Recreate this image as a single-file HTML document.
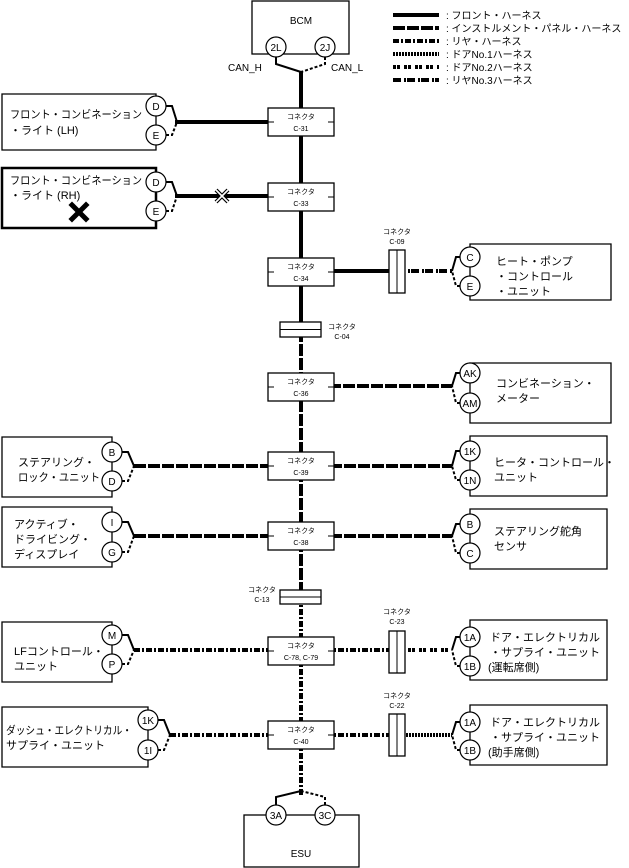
<!DOCTYPE html>
<html><head><meta charset="utf-8"><style>
html,body{margin:0;padding:0;background:#fff;}
svg{display:block;}
text{font-family:"Liberation Sans","Noto Sans CJK JP",sans-serif;fill:#000;}
.b{fill:#fff;stroke:#000;stroke-width:1.3;}
.c{fill:#fff;stroke:#000;stroke-width:1.2;}
.s{font-size:7px;}
.m{font-size:10px;}
.p{font-size:10px;}
.d{font-size:11px;}
</style></head><body>
<svg width="629" height="868" viewBox="0 0 629 868" xmlns="http://www.w3.org/2000/svg">
<g stroke="#000" stroke-width="4" fill="none">
<line x1="393" y1="15" x2="439" y2="15"/>
<line x1="393" y1="28" x2="439" y2="28" stroke-dasharray="12 2"/>
<line x1="393" y1="41" x2="439" y2="41" stroke-dasharray="6 2 2 2"/>
<line x1="393" y1="54" x2="439" y2="54" stroke-dasharray="2 1"/>
<line x1="393" y1="67" x2="439" y2="67" stroke-dasharray="3 1 3 4"/>
<line x1="393" y1="80" x2="439" y2="80" stroke-dasharray="8 3 2 1"/>
</g>
<g class="m">
<text x="446" y="19">: フロント・ハーネス</text>
<text x="446" y="32">: インストルメント・パネル・ハーネス</text>
<text x="446" y="45">: リヤ・ハーネス</text>
<text x="446" y="58">: ドアNo.1ハーネス</text>
<text x="446" y="71">: ドアNo.2ハーネス</text>
<text x="446" y="84">: リヤNo.3ハーネス</text>
</g>

<g stroke="#000" stroke-width="4" fill="none">
<line x1="301" y1="72" x2="301" y2="330"/>
<line x1="301" y1="330" x2="301" y2="597" stroke-dasharray="12 2"/>
<line x1="301" y1="597" x2="301" y2="797" stroke-dasharray="6 2 2 2"/>
<line x1="175" y1="122" x2="301" y2="122"/>
<line x1="175" y1="196" x2="301" y2="196"/>
<line x1="301" y1="271" x2="397" y2="271"/>
<line x1="397" y1="271" x2="452" y2="271" stroke-dasharray="8 3 2 1"/>
<line x1="301" y1="386" x2="452" y2="386" stroke-dasharray="12 2"/>
<line x1="134" y1="466" x2="452" y2="466" stroke-dasharray="12 2"/>
<line x1="134" y1="536" x2="452" y2="536" stroke-dasharray="12 2"/>
<line x1="134" y1="650" x2="397" y2="650" stroke-dasharray="6 2 2 2"/>
<line x1="397" y1="650" x2="452" y2="650" stroke-dasharray="3 1 3 4"/>
<line x1="170" y1="735" x2="397" y2="735" stroke-dasharray="6 2 2 2"/>
<line x1="397" y1="735" x2="452" y2="735" stroke-dasharray="2 1"/>
</g>
<g stroke="#000" stroke-width="2" fill="none">
<polyline points="276,57 276,64 301,72"/>
<polyline points="325,57 325,64 301,72" stroke-dasharray="3 2"/>
<polyline points="276,805 276,797 301,791"/>
<polyline points="325,805 325,797 301,791" stroke-dasharray="3 2"/>
<polyline points="166,106 172,106 177,122"/><polyline points="166,135 172,135 177,122" stroke-dasharray="3 2"/>
<polyline points="166,182 172,182 177,196"/><polyline points="166,211 172,211 177,196" stroke-dasharray="3 2"/>
<polyline points="122,452 128,452 134,466"/><polyline points="122,481 128,481 134,466" stroke-dasharray="3 2"/>
<polyline points="122,522 128,522 134,536"/><polyline points="122,552 128,552 134,536" stroke-dasharray="3 2"/>
<polyline points="122,635 128,635 134,650"/><polyline points="122,664 128,664 134,650" stroke-dasharray="3 2"/>
<polyline points="158,720 164,720 170,735"/><polyline points="158,750 164,750 170,735" stroke-dasharray="3 2"/>
<polyline points="460,257 456,257 452,271"/><polyline points="460,286 456,286 452,271" stroke-dasharray="3 2"/>
<polyline points="460,373 456,373 452,386"/><polyline points="460,403 456,403 452,386" stroke-dasharray="3 2"/>
<polyline points="460,451 456,451 452,466"/><polyline points="460,480 456,480 452,466" stroke-dasharray="3 2"/>
<polyline points="460,524 456,524 452,536"/><polyline points="460,553 456,553 452,536" stroke-dasharray="3 2"/>
<polyline points="460,637 456,637 452,650"/><polyline points="460,666 456,666 452,650" stroke-dasharray="3 2"/>
<polyline points="460,722 456,722 452,735"/><polyline points="460,750 456,750 452,735" stroke-dasharray="3 2"/>
</g>

<rect class="b" x="252" y="1" width="97" height="53"/>
<text x="301" y="24" class="p" text-anchor="middle">BCM</text>
<circle class="c" cx="276" cy="47" r="10"/><text x="276" y="51" class="p" text-anchor="middle">2L</text>
<circle class="c" cx="325" cy="47" r="10"/><text x="325" y="51" class="p" text-anchor="middle">2J</text>
<text x="228" y="71" class="p">CAN_H</text>
<text x="331" y="71" class="p">CAN_L</text>

<rect class="b" x="244" y="815" width="115" height="52"/>
<text x="301" y="857" class="p" text-anchor="middle">ESU</text>
<circle class="c" cx="276" cy="815" r="10"/><text x="276" y="819" class="p" text-anchor="middle">3A</text>
<circle class="c" cx="325" cy="815" r="10"/><text x="325" y="819" class="p" text-anchor="middle">3C</text>

<g>
<rect class="b" x="268" y="108" width="66" height="28"/>
<rect class="b" x="268" y="183" width="66" height="28"/>
<rect class="b" x="268" y="258" width="66" height="28"/>
<rect class="b" x="268" y="373" width="66" height="28"/>
<rect class="b" x="268" y="452" width="66" height="28"/>
<rect class="b" x="268" y="522" width="66" height="28"/>
<rect class="b" x="268" y="637" width="66" height="28"/>
<rect class="b" x="268" y="721" width="66" height="28"/>
</g>
<g stroke="#000" stroke-width="1">
<line x1="268" y1="122" x2="274" y2="122"/><line x1="328" y1="122" x2="334" y2="122"/>
<line x1="268" y1="197" x2="274" y2="197"/><line x1="328" y1="197" x2="334" y2="197"/>
<line x1="268" y1="272" x2="274" y2="272"/><line x1="328" y1="272" x2="334" y2="272"/>
<line x1="268" y1="387" x2="274" y2="387"/><line x1="328" y1="387" x2="334" y2="387"/>
<line x1="268" y1="466" x2="274" y2="466"/><line x1="328" y1="466" x2="334" y2="466"/>
<line x1="268" y1="536" x2="274" y2="536"/><line x1="328" y1="536" x2="334" y2="536"/>
<line x1="268" y1="651" x2="274" y2="651"/><line x1="328" y1="651" x2="334" y2="651"/>
<line x1="268" y1="735" x2="274" y2="735"/><line x1="328" y1="735" x2="334" y2="735"/>
</g>
<g class="s" text-anchor="middle">
<text x="301" y="119">コネクタ</text><text x="301" y="131">C-31</text>
<text x="301" y="194">コネクタ</text><text x="301" y="206">C-33</text>
<text x="301" y="269">コネクタ</text><text x="301" y="281">C-34</text>
<text x="301" y="384">コネクタ</text><text x="301" y="396">C-36</text>
<text x="301" y="463">コネクタ</text><text x="301" y="475">C-39</text>
<text x="301" y="533">コネクタ</text><text x="301" y="545">C-38</text>
<text x="301" y="648">コネクタ</text><text x="301" y="660">C-78, C-79</text>
<text x="301" y="732">コネクタ</text><text x="301" y="744">C-40</text>
<text x="397" y="234">コネクタ</text><text x="397" y="244">C-09</text>
<text x="342" y="329">コネクタ</text><text x="342" y="339">C-04</text>
<text x="262" y="592">コネクタ</text><text x="262" y="602">C-13</text>
<text x="397" y="614">コネクタ</text><text x="397" y="624">C-23</text>
<text x="397" y="698">コネクタ</text><text x="397" y="708">C-22</text>
</g>
<rect class="b" x="280" y="322" width="41" height="15"/><line x1="280" y1="329.5" x2="321" y2="329.5" stroke="#000"/>
<rect class="b" x="280" y="590" width="41" height="14"/><line x1="280" y1="597" x2="321" y2="597" stroke="#000"/>
<rect class="b" x="389" y="250" width="16" height="43"/><line x1="397" y1="250" x2="397" y2="293" stroke="#000"/>
<rect class="b" x="389" y="631" width="16" height="42"/><line x1="397" y1="631" x2="397" y2="673" stroke="#000"/>
<rect class="b" x="389" y="714" width="16" height="42"/><line x1="397" y1="714" x2="397" y2="756" stroke="#000"/>

<g fill="none" stroke="#000" stroke-width="1.3">
<path d="M156,94 H2 V150 H156 Z"/>
<path d="M156,168 H2 V228 H156 Z" stroke-width="2.5"/>
<path d="M112,437 H2 V497 H112 Z"/>
<path d="M112,507 H2 V567 H112 Z"/>
<path d="M112,622 H2 V682 H112 Z"/>
<path d="M148,707 H2 V767 H148 Z"/>
<path d="M470,244 H611 V300 H470 Z"/>
<path d="M470,363 H611 V423 H470 Z"/>
<path d="M470,436 H607 V496 H470 Z"/>
<path d="M470,509 H607 V569 H470 Z"/>
<path d="M470,620 H607 V680 H470 Z"/>
<path d="M470,705 H607 V765 H470 Z"/>
</g>
<g class="p" text-anchor="middle">
<circle class="c" cx="156" cy="106" r="10"/><text x="156" y="110">D</text>
<circle class="c" cx="156" cy="135" r="10"/><text x="156" y="139">E</text>
<circle class="c" cx="156" cy="182" r="10"/><text x="156" y="186">D</text>
<circle class="c" cx="156" cy="211" r="10"/><text x="156" y="215">E</text>
<circle class="c" cx="112" cy="452" r="10"/><text x="112" y="456">B</text>
<circle class="c" cx="112" cy="481" r="10"/><text x="112" y="485">D</text>
<circle class="c" cx="112" cy="522" r="10"/><text x="112" y="526">I</text>
<circle class="c" cx="112" cy="552" r="10"/><text x="112" y="556">G</text>
<circle class="c" cx="112" cy="635" r="10"/><text x="112" y="639">M</text>
<circle class="c" cx="112" cy="664" r="10"/><text x="112" y="668">P</text>
<circle class="c" cx="148" cy="720" r="10"/><text x="148" y="724">1K</text>
<circle class="c" cx="148" cy="750" r="10"/><text x="148" y="754">1I</text>
<circle class="c" cx="470" cy="257" r="10"/><text x="470" y="261">C</text>
<circle class="c" cx="470" cy="286" r="10"/><text x="470" y="290">E</text>
<circle class="c" cx="470" cy="373" r="10"/><text x="470" y="377">AK</text>
<circle class="c" cx="470" cy="403" r="10"/><text x="470" y="407">AM</text>
<circle class="c" cx="470" cy="451" r="10"/><text x="470" y="455">1K</text>
<circle class="c" cx="470" cy="480" r="10"/><text x="470" y="484">1N</text>
<circle class="c" cx="470" cy="524" r="10"/><text x="470" y="528">B</text>
<circle class="c" cx="470" cy="553" r="10"/><text x="470" y="557">C</text>
<circle class="c" cx="470" cy="637" r="10"/><text x="470" y="641">1A</text>
<circle class="c" cx="470" cy="666" r="10"/><text x="470" y="670">1B</text>
<circle class="c" cx="470" cy="722" r="10"/><text x="470" y="726">1A</text>
<circle class="c" cx="470" cy="750" r="10"/><text x="470" y="754">1B</text>
</g>
<g class="d">
<text x="10" y="118" textLength="132" lengthAdjust="spacingAndGlyphs">フロント・コンビネーション</text><text x="10" y="134">・ライト (LH)</text>
<text x="10" y="184" textLength="132" lengthAdjust="spacingAndGlyphs">フロント・コンビネーション</text><text x="10" y="199">・ライト (RH)</text>
<text x="18" y="466">ステアリング・</text><text x="18" y="481" textLength="82" lengthAdjust="spacingAndGlyphs">ロック・ユニット</text>
<text x="14" y="528">アクティブ・</text><text x="14" y="543">ドライビング・</text><text x="14" y="558">ディスプレイ</text>
<text x="14" y="655">LFコントロール・</text><text x="14" y="670">ユニット</text>
<text x="6" y="734" textLength="126" lengthAdjust="spacingAndGlyphs">ダッシュ・エレクトリカル・</text><text x="6" y="749">サプライ・ユニット</text>
<text x="496" y="265">ヒート・ポンプ</text><text x="496" y="280">・コントロール</text><text x="496" y="295">・ユニット</text>
<text x="496" y="387">コンビネーション・</text><text x="496" y="402">メーター</text>
<text x="494" y="466">ヒータ・コントロール・</text><text x="494" y="481">ユニット</text>
<text x="494" y="535">ステアリング舵角</text><text x="494" y="550">センサ</text>
<text x="490" y="641">ドア・エレクトリカル</text><text x="490" y="656">・サプライ・ユニット</text><text x="488" y="671">(運転席側)</text>
<text x="490" y="726">ドア・エレクトリカル</text><text x="490" y="741">・サプライ・ユニット</text><text x="488" y="756">(助手席側)</text>
</g>
<g stroke="#000" stroke-width="5" stroke-linecap="square">
<line x1="72" y1="205" x2="86" y2="219"/><line x1="86" y1="205" x2="72" y2="219"/>
</g>
<g stroke="#000" stroke-width="4"><line x1="216" y1="190" x2="228" y2="202"/><line x1="228" y1="190" x2="216" y2="202"/></g>
<g stroke="#fff" stroke-width="1.6"><line x1="216" y1="190" x2="228" y2="202"/><line x1="228" y1="190" x2="216" y2="202"/></g>
</svg>
</body></html>
